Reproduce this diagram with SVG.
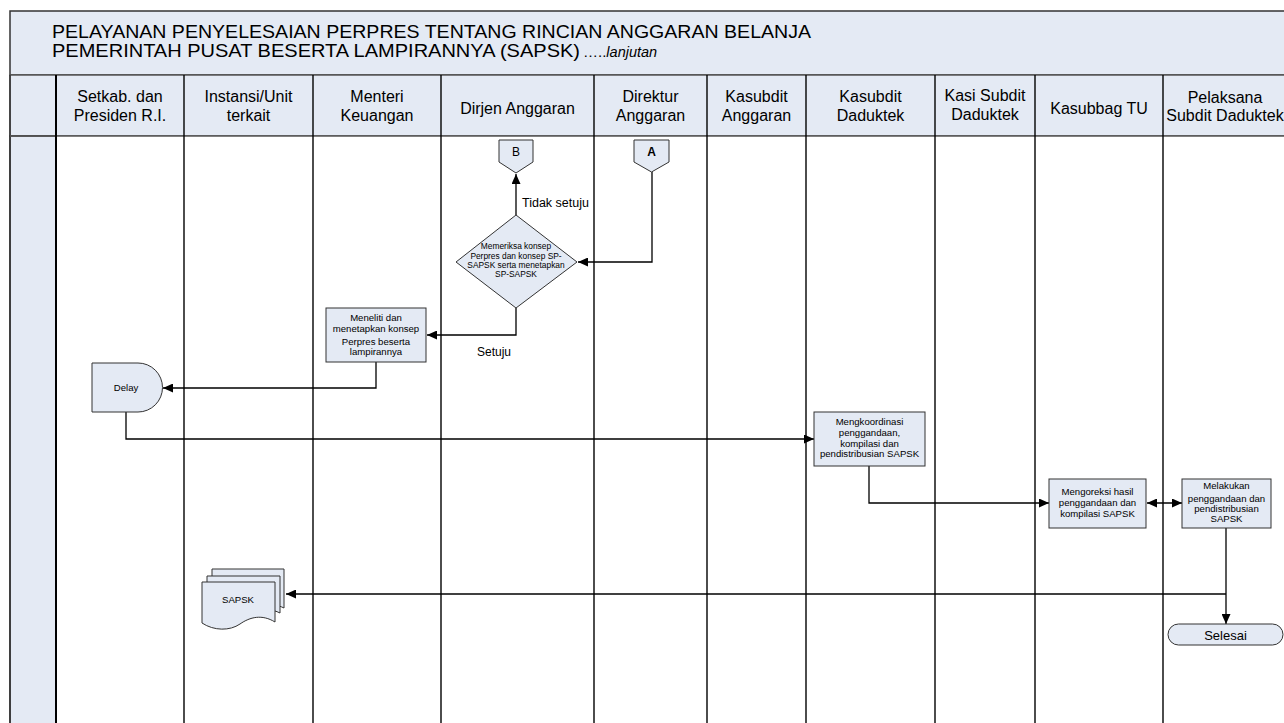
<svg xmlns="http://www.w3.org/2000/svg" width="1284" height="723" viewBox="0 0 1284 723">
<style>
.t{font-family:"Liberation Sans",Arial,sans-serif;fill:#000}
.h{font-size:16px;text-anchor:middle}
.s{font-size:9.6px;text-anchor:middle}
.d{font-size:8.4px;text-anchor:middle}
.box{fill:#E4EAF4;stroke:#333;stroke-width:1}
.lane{stroke:#000;stroke-width:1.4;fill:none}
.conn{fill:none;stroke:#000;stroke-width:1.3}
</style>
<defs>
<marker id="arr" markerUnits="userSpaceOnUse" markerWidth="11" markerHeight="9" refX="10" refY="4.5" orient="auto-start-reverse">
<path d="M0,0 L10,4.5 L0,9 z" fill="#000"/>
</marker>
</defs>
<rect x="0" y="0" width="1284" height="723" fill="#fff"/>
<g id="frame">
<rect x="10" y="11" width="1290" height="64" fill="#E4EAF4" stroke="#333" stroke-width="1.5"/>
<rect x="10" y="75" width="1290" height="61" fill="#E4EAF4" stroke="#555" stroke-width="1.5"/>
<rect x="10" y="136" width="46" height="600" fill="#E4EAF4" stroke="#333" stroke-width="1.5"/>
<rect x="56" y="136" width="1244" height="600" fill="#fff"/>
<line x1="10" y1="75" x2="10" y2="723" stroke="#333" stroke-width="1.5"/>
<line x1="10" y1="136" x2="1300" y2="136" stroke="#555" stroke-width="1.5"/>
<g class="lane">
<line x1="56" y1="75" x2="56" y2="723" stroke-width="2"/>
<line x1="184" y1="75" x2="184" y2="723"/>
<line x1="313" y1="75" x2="313" y2="723"/>
<line x1="441" y1="75" x2="441" y2="723"/>
<line x1="594" y1="75" x2="594" y2="723"/>
<line x1="707" y1="75" x2="707" y2="723"/>
<line x1="806" y1="75" x2="806" y2="723"/>
<line x1="935" y1="75" x2="935" y2="723"/>
<line x1="1035" y1="75" x2="1035" y2="723"/>
<line x1="1163" y1="75" x2="1163" y2="723"/>
</g>
</g>
<g id="title" class="t">
<text x="52" y="38" font-size="18" textLength="759" lengthAdjust="spacingAndGlyphs">PELAYANAN PENYELESAIAN PERPRES TENTANG RINCIAN ANGGARAN BELANJA</text>
<text x="52" y="57" font-size="18" textLength="528" lengthAdjust="spacingAndGlyphs">PEMERINTAH PUSAT BESERTA LAMPIRANNYA (SAPSK)</text>
<text x="583" y="57" font-size="15">…..<tspan font-style="italic" font-family="'Liberation Sans Narrow','Liberation Sans',sans-serif" font-size="14.5">lanjutan</tspan></text>
</g>
<g id="headers" class="t h">
<text x="120" y="102">Setkab. dan</text><text x="120" y="121">Presiden R.I.</text>
<text x="248.5" y="102">Instansi/Unit</text><text x="248.5" y="121">terkait</text>
<text x="377" y="102">Menteri</text><text x="377" y="121">Keuangan</text>
<text x="517.5" y="114">Dirjen Anggaran</text>
<text x="650.5" y="102">Direktur</text><text x="650.5" y="121">Anggaran</text>
<text x="756.5" y="102">Kasubdit</text><text x="756.5" y="121">Anggaran</text>
<text x="870.5" y="102">Kasubdit</text><text x="870.5" y="121">Daduktek</text>
<text x="985" y="100.5">Kasi Subdit</text><text x="985" y="120">Daduktek</text>
<text x="1099" y="114">Kasubbag TU</text>
<text x="1225" y="103">Pelaksana</text><text x="1225" y="121">Subdit Daduktek</text>
</g>
<g id="connectors">
<path class="conn" d="M652,172 V262 H578" marker-end="url(#arr)"/>
<path class="conn" d="M516,215 V174" marker-end="url(#arr)"/>
<path class="conn" d="M516,308 V335 H427" marker-end="url(#arr)"/>
<path class="conn" d="M376,362 V388 H163" marker-end="url(#arr)"/>
<path class="conn" d="M126,412 V439 H814" marker-end="url(#arr)"/>
<path class="conn" d="M869,466 V503 H1049" marker-end="url(#arr)"/>
<path class="conn" d="M1147,503 H1182" marker-start="url(#arr)" marker-end="url(#arr)"/>
<path class="conn" d="M1226,528 V624" marker-end="url(#arr)"/>
<path class="conn" d="M1226,594 H286" marker-end="url(#arr)"/>
<text class="t" x="522" y="207" font-size="12.5">Tidak setuju</text>
<text class="t" x="477" y="356" font-size="12">Setuju</text>
</g>
<g id="B">
<path class="box" d="M499,140 H533 V162 L516,173 L499,162 Z"/>
<text class="t" x="516" y="156" font-size="12" text-anchor="middle">B</text>
</g>
<g id="A">
<path class="box" d="M634,140 H669 V162 L651.5,172 L634,162 Z"/>
<text class="t" x="651.5" y="156" font-size="12" font-weight="bold" text-anchor="middle">A</text>
</g>
<g id="decision">
<path class="box" d="M516,215 L577,262 L516,308 L456,262 Z"/>
<text class="t d" x="516" y="249">Memeriksa konsep</text>
<text class="t d" x="516" y="258.5">Perpres dan konsep SP-</text>
<text class="t d" x="516" y="268">SAPSK serta menetapkan</text>
<text class="t d" x="516" y="277">SP-SAPSK</text>
</g>
<g id="meneliti">
<rect class="box" x="326" y="308" width="100" height="54"/>
<text class="t s" x="376" y="321">Meneliti dan</text>
<text class="t s" x="376" y="332">menetapkan konsep</text>
<text class="t s" x="376" y="345">Perpres beserta</text>
<text class="t s" x="376" y="355">lampirannya</text>
</g>
<g id="delay">
<path class="box" d="M92,363 H138 A24.5,24.5 0 0 1 138,412 H92 Z"/>
<text class="t s" x="126" y="390.5">Delay</text>
</g>
<g id="mengkoordinasi">
<rect class="box" x="814" y="412" width="111" height="54"/>
<text class="t s" x="869.5" y="425">Mengkoordinasi</text>
<text class="t s" x="869.5" y="436">penggandaan,</text>
<text class="t s" x="869.5" y="446.5">kompilasi dan</text>
<text class="t s" x="869.5" y="457">pendistribusian SAPSK</text>
</g>
<g id="mengoreksi">
<rect class="box" x="1049" y="479" width="97" height="49"/>
<text class="t s" x="1097.5" y="495">Mengoreksi hasil</text>
<text class="t s" x="1097.5" y="506">penggandaan dan</text>
<text class="t s" x="1097.5" y="517">kompilasi SAPSK</text>
</g>
<g id="melakukan">
<rect class="box" x="1182" y="479" width="89" height="49"/>
<text class="t s" x="1226.5" y="489">Melakukan</text>
<text class="t s" x="1226.5" y="501.5">penggandaan dan</text>
<text class="t s" x="1226.5" y="512">pendistribusian</text>
<text class="t s" x="1226.5" y="522">SAPSK</text>
</g>
<g id="sapsk">
<path class="box" d="M212,569 H284 V608 C278,605 272,604 266,606 L212,606 Z"/>
<path class="box" d="M207,576 H280 V613 C272,609 265,609 258,612 L207,612 Z"/>
<path class="box" d="M202,582 H275 V622 C262,614 250,617 240,624 C230,631 214,631 202,623 Z"/>
<text class="t s" x="238" y="602.5">SAPSK</text>
</g>
<g id="selesai">
<rect class="box" x="1168" y="624" width="115" height="21" rx="10.5"/>
<text class="t" x="1225.5" y="639.5" font-size="13" text-anchor="middle">Selesai</text>
</g>
</svg>
